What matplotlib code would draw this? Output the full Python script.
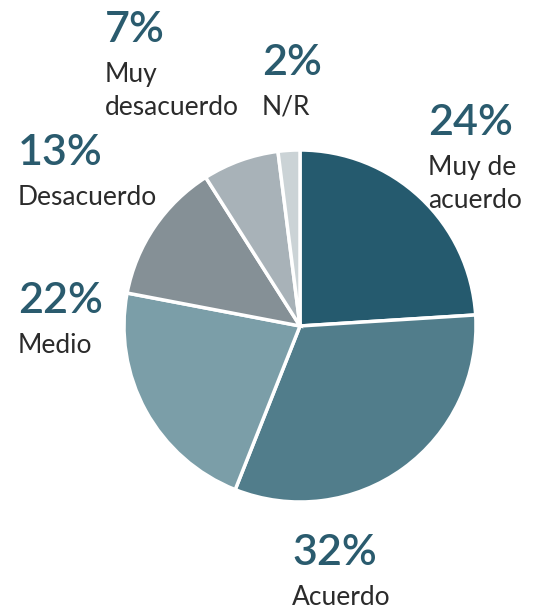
import matplotlib
matplotlib.use('Agg')
import matplotlib.pyplot as plt

labels = ['Muy de\nacuerdo', 'Acuerdo', 'Medio', 'Desacuerdo', 'Muy\ndesacuerdo', 'N/R']
values = [24, 32, 22, 13, 7, 2]
colors = ['#255a6e', '#517d8b', '#7b9ea8', '#859096', '#a8b2b8', '#cbd3d6']
# label anchor (x, baseline of percent) in pixels from top-left
label_pos = [(428, 135), (292, 565), (18, 313), (18, 165), (105, 42), (262, 75)]

W, H = 552, 610
fig = plt.figure(figsize=(W / 100, H / 100), dpi=100)
ax = fig.add_axes([0, 0, 1, 1])

ax.pie(values, colors=colors, startangle=90, counterclock=False,
       center=(300, H - 326), radius=176, frame=True,
       wedgeprops=dict(edgecolor='white', linewidth=2.5))
ax.set_xlim(0, W)
ax.set_ylim(0, H)
ax.set_aspect('equal')
ax.axis('off')

pct_color = '#2a5b6e'
txt_color = '#2b2b2b'
for lab, v, (x, y) in zip(labels, values, label_pos):
    ax.text(x, H - y, f'{v}%', fontsize=31, family='Lato', weight='semibold',
            color=pct_color, ha='left', va='baseline')
    lines = lab.split('\n')
    for i, line in enumerate(lines):
        ax.text(x, H - (y + 40 + 33 * i), line, fontsize=19, family='Lato',
                color=txt_color, ha='left', va='baseline')

fig.savefig('out.png', dpi=100)
